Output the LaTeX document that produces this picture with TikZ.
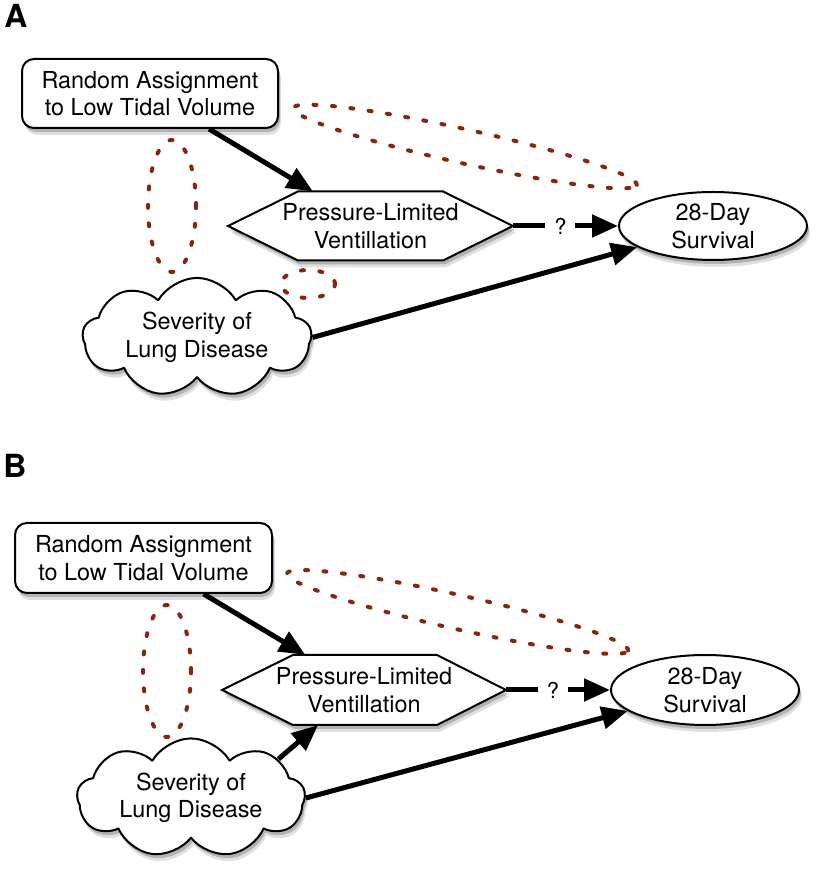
\documentclass[tikz,border=0pt]{standalone}
\usepackage{fontspec}
\setmainfont{TeX Gyre Heros}
\usetikzlibrary{arrows.meta,shapes.geometric,shapes.symbols,shadows}
\definecolor{rimbrown}{RGB}{135,38,14}

\begin{document}
\begin{tikzpicture}[>={Triangle[length=26bp,width=22bp]},line join=bevel,
  every node/.style={font=\fontsize{23.5}{27.5}\selectfont,align=center},
  shade/.style={drop shadow={shadow xshift=3bp,shadow yshift=-7bp,opacity=0.12,fill=black},
                drop shadow={shadow xshift=2bp,shadow yshift=-4bp,opacity=0.2,fill=black}},
  panel/.style={font=\fontsize{32}{34}\selectfont\bfseries,inner sep=0pt},
  randbox/.style={draw,line width=2bp,fill=white,rounded corners=12bp,minimum width=256bp,minimum height=69bp,inner sep=0pt,shade},
  hexline/.style={draw,line width=2bp,fill=white,line join=miter,shade},
  hexbox/.style={draw=none,minimum width=285bp,minimum height=69bp,inner sep=0pt},
  outbox/.style={ellipse,draw,line width=2bp,fill=white,minimum width=188bp,minimum height=68bp,inner sep=0pt,shade},
  cloudbox/.style={cloud,cloud puffs=9,cloud puff arc=120,aspect=2.4,draw,line width=2bp,fill=white,minimum width=229bp,minimum height=96bp,inner sep=0pt,shade},
  ring/.style={draw=rimbrown,line width=4bp,line cap=round,dash pattern=on 3bp off 15.5bp},
  causal/.style={black,line width=5bp,->},
  query/.style={fill=white,inner xsep=9bp,inner ysep=2bp,font=\fontsize{22}{24}\selectfont},
]
%%
\useasboundingbox (0bp,0bp) rectangle (822bp,871bp);
% panel A
\node (labA) at (16bp,855bp) [panel] {A};
\draw [hexline,shift={(370.5bp,645bp)}] (-142.5bp,0bp) -- (-72.5bp,34.5bp) -- (72.5bp,34.5bp) -- (142.5bp,0bp) -- (72.5bp,-34.5bp) -- (-72.5bp,-34.5bp) -- cycle;
\node (plvA) at (370.5bp,645bp) [hexbox] {Pressure-Limited\\Ventillation};
\node (randA) at (150bp,777.5bp) [randbox] {Random Assignment\\to Low Tidal Volume};
\node (survA) at (713bp,645bp) [outbox] {28-Day\\Survival};
\node (sevA) at (197bp,533.5bp) [cloudbox] {Severity of\\Lung Disease};
\draw [ring,rotate around={-12.6:(465bp,724.5bp)}] (465bp,724.5bp) ellipse [x radius=176bp,y radius=17bp];
\draw [ring] (172bp,665bp) ellipse [x radius=24bp,y radius=66bp];
\draw [ring] (308bp,587bp) ellipse [x radius=27bp,y radius=14bp];
\draw [causal] (randA) -- (plvA);
\draw [causal] (plvA.east) -- node [pos=0.45,query] {?} (survA.west);
\draw [causal] (sevA.east) -- (survA);
%
% panel B
\node (labB) at (15bp,405bp) [panel] {B};
\draw [hexline,shift={(364bp,181bp)}] (-142bp,0bp) -- (-71bp,35bp) -- (73bp,35bp) -- (142bp,0bp) -- (73bp,-35bp) -- (-71bp,-35bp) -- cycle;
\node (plvB) at (364bp,181bp) [hexbox,minimum width=284bp,minimum height=70bp] {Pressure-Limited\\Ventillation};
\node (randB) at (143.5bp,313bp) [randbox,minimum width=257bp,minimum height=70bp] {Random Assignment\\to Low Tidal Volume};
\node (survB) at (705bp,181bp) [outbox,minimum height=70bp] {28-Day\\Survival};
\node (sevB) at (191bp,73bp) [cloudbox,minimum width=228bp,minimum height=100bp] {Severity of\\Lung Disease};
\draw [ring,rotate around={-12.7:(457.5bp,259bp)}] (457.5bp,259bp) ellipse [x radius=175bp,y radius=17bp];
\draw [ring] (167bp,200bp) ellipse [x radius=24bp,y radius=66bp];
\draw [causal] (randB) -- (plvB);
\draw [causal] (sevB.24) -- ([xshift=-46bp]plvB.south);
\draw [causal] (plvB.east) -- node [pos=0.45,query] {?} (survB.west);
\draw [causal] (sevB.east) -- (survB);
%
\end{tikzpicture}
\end{document}
